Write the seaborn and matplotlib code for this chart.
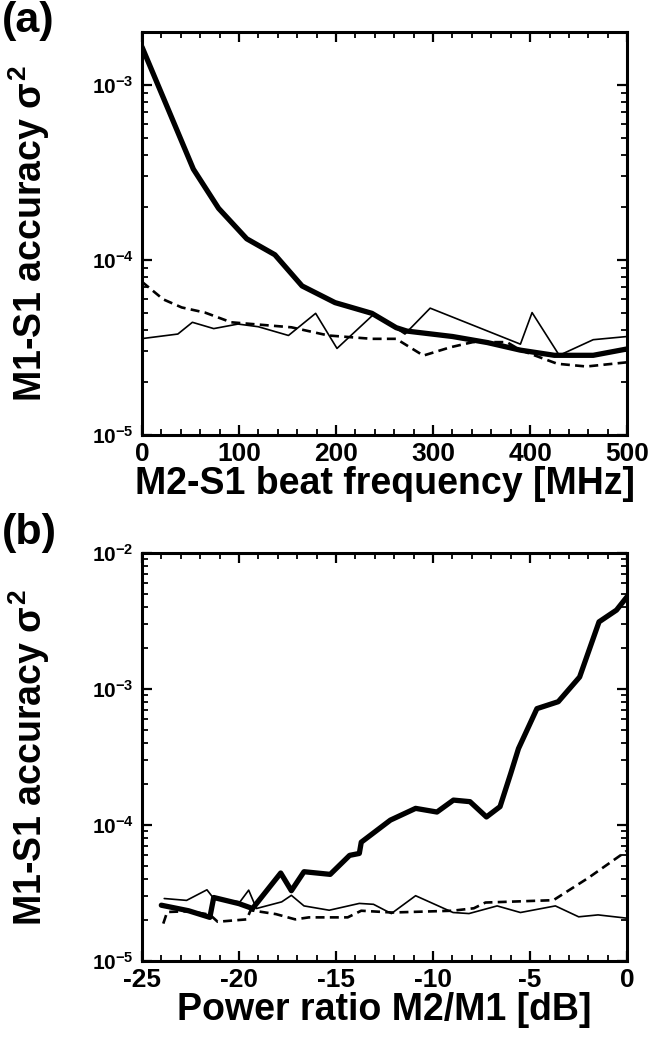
import numpy as np
import pandas as pd
import matplotlib
matplotlib.use("Agg")
import matplotlib.pyplot as plt
import matplotlib.ticker as mticker
import seaborn as sns

# ---------------- data ----------------
# Panel (a): x = M2-S1 beat frequency [MHz]
a_thick_x = [0, 53, 79, 108, 137, 165, 199, 237, 262, 273, 320, 356, 390, 425, 465, 500]
a_thick_y = [1.65e-3, 3.3e-4, 1.97e-4, 1.32e-4, 1.07e-4, 7.1e-5, 5.7e-5, 4.95e-5, 4.1e-5,
             3.92e-5, 3.65e-5, 3.37e-5, 3.05e-5, 2.85e-5, 2.85e-5, 3.1e-5]
a_thin_x = [0, 37, 52, 74, 99, 120, 151, 179, 201, 239, 271, 297, 390, 402, 430, 465, 500]
a_thin_y = [3.55e-5, 3.77e-5, 4.4e-5, 4.05e-5, 4.3e-5, 4.15e-5, 3.7e-5, 4.95e-5, 3.12e-5,
            4.9e-5, 3.77e-5, 5.3e-5, 3.3e-5, 5.0e-5, 2.85e-5, 3.5e-5, 3.65e-5]
a_dash_x = [0, 22, 41, 65, 92, 154, 192, 237, 262, 290, 318, 341, 376, 390, 428, 458, 500]
a_dash_y = [7.5e-5, 5.95e-5, 5.35e-5, 5.0e-5, 4.4e-5, 4.12e-5, 3.7e-5, 3.54e-5, 3.54e-5,
            2.84e-5, 3.17e-5, 3.39e-5, 3.39e-5, 3.05e-5, 2.55e-5, 2.46e-5, 2.6e-5]

# Panel (b): x = power ratio M2/M1 [dB]
b_thick_x = [-24.0, -22.6, -21.5, -21.3, -20.0, -19.3, -17.85, -17.3, -16.65, -15.3, -14.3,
             -13.8, -13.7, -12.2, -10.9, -9.8, -8.95, -8.1, -7.25, -6.55, -6.0, -5.6, -4.65,
             -3.55, -2.45, -1.45, -0.55, 0.0]
b_thick_y = [2.58e-5, 2.35e-5, 2.1e-5, 2.94e-5, 2.65e-5, 2.44e-5, 4.45e-5, 3.3e-5, 4.55e-5,
             4.35e-5, 6.0e-5, 6.2e-5, 7.5e-5, 1.09e-4, 1.33e-4, 1.25e-4, 1.53e-4, 1.49e-4,
             1.15e-4, 1.37e-4, 2.4e-4, 3.66e-4, 7.2e-4, 8.1e-4, 1.23e-3, 3.13e-3, 3.82e-3, 4.8e-3]
b_thin_x = [-23.85, -22.7, -21.65, -21.3, -19.95, -19.5, -19.1, -17.8, -17.3, -16.65, -15.35,
            -13.8, -13.07, -12.15, -10.9, -8.97, -8.15, -6.7, -5.5, -3.7, -2.5, -1.5, 0.0]
b_thin_y = [2.89e-5, 2.8e-5, 3.35e-5, 2.89e-5, 2.73e-5, 3.33e-5, 2.44e-5, 2.73e-5, 3.05e-5,
            2.55e-5, 2.37e-5, 2.66e-5, 2.62e-5, 2.24e-5, 3.03e-5, 2.28e-5, 2.24e-5, 2.55e-5,
            2.28e-5, 2.55e-5, 2.12e-5, 2.19e-5, 2.07e-5]
b_dash_x = [-23.9, -23.7, -22.6, -21.5, -21.1, -19.6, -19.4, -18.1, -17.1, -16.4, -14.4, -13.7,
            -12.1, -9.0, -7.9, -7.3, -3.8, -2.0, 0.0]
b_dash_y = [1.89e-5, 2.3e-5, 2.33e-5, 2.2e-5, 1.95e-5, 2.03e-5, 2.37e-5, 2.22e-5, 2.03e-5,
            2.1e-5, 2.1e-5, 2.35e-5, 2.28e-5, 2.35e-5, 2.45e-5, 2.7e-5, 2.81e-5, 4.1e-5, 6.5e-5]

a_xticks = [0, 100, 200, 300, 400, 500]
b_xticks = [-25, -20, -15, -10, -5, 0]
a_yticks = [1e-5, 1e-4, 1e-3]
b_yticks = [1e-5, 1e-4, 1e-3, 1e-2]

xlabel_a = "M2-S1 beat frequency [MHz]"
xlabel_b = "Power ratio M2/M1 [dB]"
ylabel = r"M1-S1 accuracy $\sigma^2$"

# ---------------- style ----------------
sns.set_theme(style="ticks")
plt.rcParams["font.family"] = ["Liberation Sans", "DejaVu Sans"]
plt.rcParams["font.weight"] = "bold"
plt.rcParams["text.color"] = "black"
plt.rcParams["axes.labelcolor"] = "black"
plt.rcParams["xtick.color"] = "black"
plt.rcParams["ytick.color"] = "black"
plt.rcParams["axes.unicode_minus"] = False
plt.rcParams["mathtext.fontset"] = "custom"
plt.rcParams["mathtext.rm"] = "Liberation Sans:bold"
plt.rcParams["mathtext.bf"] = "Liberation Sans:bold"
plt.rcParams["mathtext.it"] = "Liberation Sans:bold"
plt.rcParams["mathtext.sf"] = "Liberation Sans:bold"

fig = plt.figure(figsize=(6.54, 10.38), dpi=100)
ax1 = fig.add_axes([0.217, 0.581, 0.742, 0.388])
ax2 = fig.add_axes([0.217, 0.074, 0.742, 0.393])


def draw(ax, xs, ys, lw, style):
    df = pd.DataFrame({"x": xs, "y": ys})
    line = sns.lineplot(data=df, x="x", y="y", ax=ax, color="black", sort=False,
                        estimator=None, linewidth=lw)
    ln = line.lines[-1]
    if style == "dash":
        ln.set_dashes((3.4, 2.0))
    ln.set_solid_joinstyle("round")


for ax, series in [(ax1, [(a_thin_x, a_thin_y, 1.2, "solid"),
                          (a_dash_x, a_dash_y, 1.9, "dash"),
                          (a_thick_x, a_thick_y, 3.8, "solid")]),
                   (ax2, [(b_thin_x, b_thin_y, 1.2, "solid"),
                          (b_dash_x, b_dash_y, 1.9, "dash"),
                          (b_thick_x, b_thick_y, 3.8, "solid")])]:
    for xs, ys, lw, st in series:
        draw(ax, xs, ys, lw, st)

fmt = mticker.FuncFormatter(lambda v, p: r"$10^{%d}$" % int(round(np.log10(v))))

for ax, xlim, ylim, xt, yt, xminor, xl in [
        (ax1, (0, 500), (1e-5, 2e-3), a_xticks, a_yticks, 20, xlabel_a),
        (ax2, (-25, 0), (1e-5, 1e-2), b_xticks, b_yticks, 1, xlabel_b)]:
    ax.set_yscale("log")
    ax.set_xlim(*xlim)
    ax.set_ylim(*ylim)
    ax.set_xticks(xt)
    ax.xaxis.set_minor_locator(mticker.MultipleLocator(xminor))
    ax.yaxis.set_major_locator(mticker.FixedLocator(yt))
    ax.yaxis.set_minor_locator(mticker.LogLocator(base=10, subs=np.arange(2, 10)))
    ax.yaxis.set_major_formatter(fmt)
    ax.yaxis.set_minor_formatter(mticker.NullFormatter())
    ax.tick_params(which="both", direction="in", top=True, right=True, colors="black")
    ax.tick_params(which="major", length=7, width=1.6)
    ax.tick_params(which="minor", length=4, width=1.3)
    ax.tick_params(axis="x", which="major", labelsize=19, pad=5)
    ax.tick_params(axis="y", which="major", labelsize=15, pad=6)
    for lab in ax.get_xticklabels() + ax.get_yticklabels():
        lab.set_fontweight("bold")
    for s in ax.spines.values():
        s.set_linewidth(2.2)
        s.set_color("black")
    ax.set_xlabel(xl, fontsize=27, fontweight="bold", labelpad=0)
    ax.set_ylabel(ylabel, fontsize=27, fontweight="bold")
    ax.yaxis.set_label_coords(-0.185, 0.5)
    ax.set_facecolor("white")

fig.text(0.003, 0.999, "(a)", fontsize=31, fontweight="bold", va="top", ha="left")
fig.text(0.003, 0.506, "(b)", fontsize=31, fontweight="bold", va="top", ha="left")

fig.savefig("out.png", dpi=100, facecolor="white")
